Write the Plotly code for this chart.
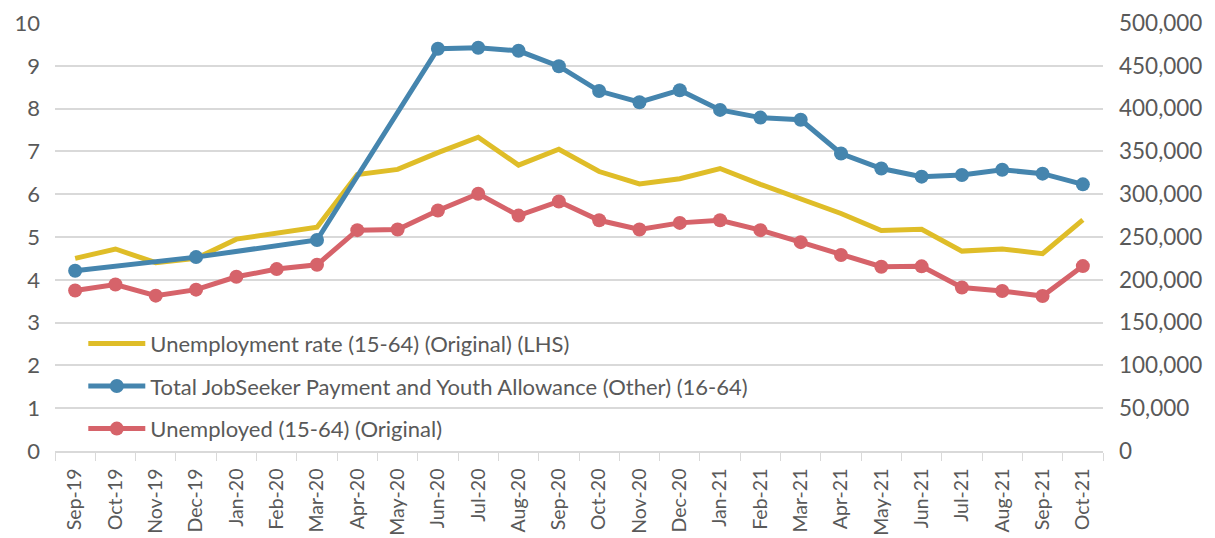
import plotly.graph_objects as go

months = ["Sep-19", "Oct-19", "Nov-19", "Dec-19", "Jan-20", "Feb-20", "Mar-20", "Apr-20",
          "May-20", "Jun-20", "Jul-20", "Aug-20", "Sep-20", "Oct-20", "Nov-20", "Dec-20",
          "Jan-21", "Feb-21", "Mar-21", "Apr-21", "May-21", "Jun-21", "Jul-21", "Aug-21",
          "Sep-21", "Oct-21"]

unemp_rate = [4.5, 4.72, 4.4, 4.5, 4.95, 5.1, 5.23, 6.46, 6.58, 6.97, 7.33, 6.68, 7.05,
              6.53, 6.24, 6.36, 6.6, 6.23, 5.9, 5.55, 5.15, 5.18, 4.67, 4.72, 4.61, 5.4]

jobseeker = [210500, None, None, 226500, None, None, 246500, None, None, 470000, 471000,
             467500, 449500, 420500, 407500, 421500, 398500, 389500, 387000, 347500,
             330000, 320500, 322500, 328500, 324000, 311500]

unemployed = [187500, 194500, 181500, 188500, 203500, 212500, 217500, 258000, 258800,
              281000, 300500, 275000, 291500, 269500, 258800, 266500, 269500, 258000,
              244000, 229000, 215300, 215700, 191000, 187000, 181000, 216000]

grey = "#595959"
font_family = "Lato, 'Open Sans', sans-serif"

fig = go.Figure()
fig.add_trace(go.Scatter(
    x=months, y=unemp_rate, name="Unemployment rate (15-64) (Original) (LHS)",
    mode="lines", line=dict(color="#DFBD28", width=5), legendgroup="a", yaxis="y"))
fig.add_trace(go.Scatter(
    x=months, y=jobseeker, name="Total JobSeeker Payment and Youth Allowance (Other) (16-64)",
    mode="lines+markers", connectgaps=True, line=dict(color="#4585AE", width=5),
    marker=dict(size=14, color="#4585AE"), legendgroup="b", yaxis="y2"))
fig.add_trace(go.Scatter(
    x=months, y=unemployed, name="Unemployed (15-64) (Original)",
    mode="lines+markers", line=dict(color="#D6636A", width=5),
    marker=dict(size=14, color="#D6636A"), legendgroup="c", yaxis="y2"))

fig.update_layout(
    width=1215, height=538,
    margin=dict(l=47, r=120, t=15, b=95),
    paper_bgcolor="white", plot_bgcolor="white",
    font=dict(family=font_family, color=grey, size=22),
    showlegend=True,
    legend=dict(x=0.027, y=0.300, xanchor="left", yanchor="top",
                font=dict(size=22, color=grey), bgcolor="rgba(0,0,0,0)",
                tracegroupgap=11, itemwidth=57, traceorder="grouped"),
    xaxis=dict(type="category", tickangle=-90, tickfont=dict(size=19.5, color=grey),
               showline=True, linecolor="#D9D9D9", linewidth=1.5, automargin=False,
               ticks="outside", tickson="boundaries", ticklen=8, tickcolor="#D9D9D9",
               ticklabelstandoff=8, showgrid=False, range=[-0.5, 25.5]),
    yaxis=dict(range=[0, 10], dtick=1, tickfont=dict(size=22, color=grey), automargin=False,
               showgrid=True, gridcolor="#D9D9D9", gridwidth=1.5, zeroline=False,
               ticklabelstandoff=14, ticklabeloverflow="allow", ticks="", showline=False),
    yaxis2=dict(range=[0, 500000], dtick=50000, tickformat=",", overlaying="y", side="right",
                tickfont=dict(size=22.5, color=grey), showgrid=False, zeroline=False,
                ticklabelstandoff=15, ticklabeloverflow="allow", automargin=False,
                ticks="", showline=False),
)

fig.write_html("out.html")
